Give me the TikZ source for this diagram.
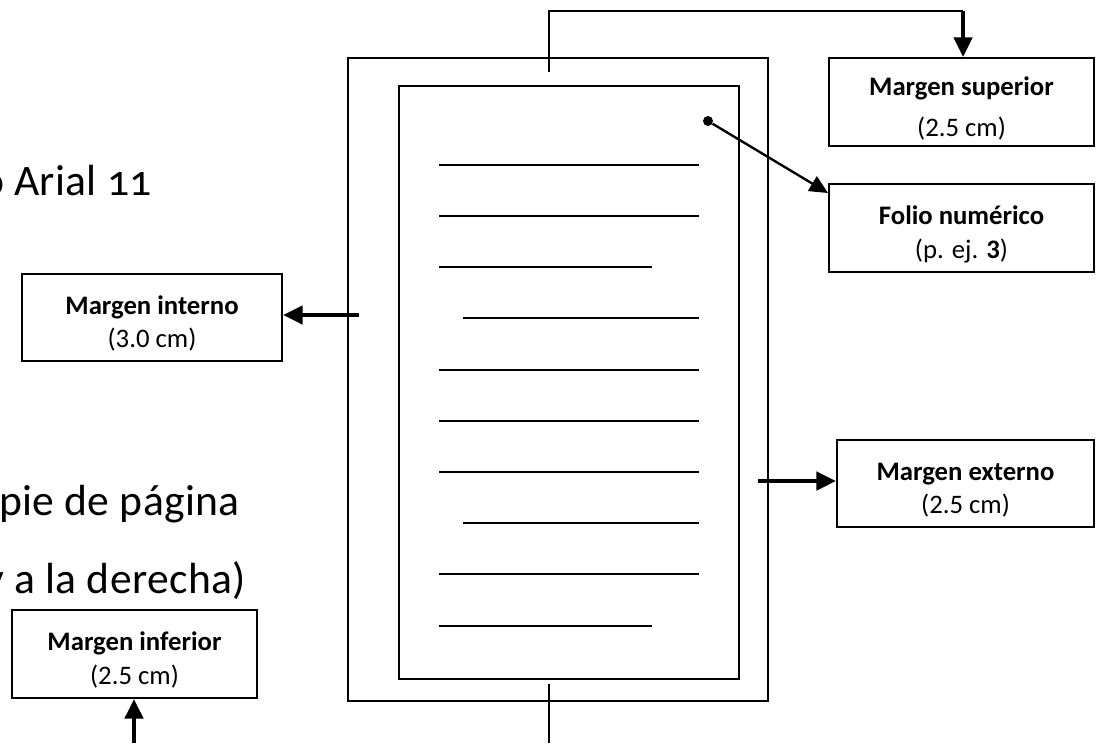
\documentclass[tikz,border=0pt]{standalone}
\usepackage{fontspec}
\setmainfont{Carlito}
\newfontfamily\grande[Numbers=OldStyle, LetterSpace=0.8]{Carlito}
\usetikzlibrary{arrows.meta}
\tikzset{
	marco/.style={draw, line width=1.4pt, inner sep=0pt, align=center, font=\fontsize{19pt}{24pt}\selectfont},
	flecha/.style={line width=2.8pt, -{Triangle[length=14pt,width=13pt]}},
	renglon/.style={line width=1.1pt},
	nota/.style={inner sep=0pt, font=\grande\fontsize{31pt}{34pt}\selectfont}
}

\begin{document}
\begin{tikzpicture}[x=0.025cm, y=-0.025cm]
			%%%%% START %%%%%
			\useasboundingbox (0,0) rectangle (1096,743);
			
			% pagina
			\draw[line width=1.4pt] (348,58) rectangle (768,701);
			\draw[line width=1.4pt] (399,86) rectangle (739,679);
			
			\foreach \y/\a/\b in {165/439/699, 216/439/699, 267/439/652, 318/463/699, 370/439/699,
				421/439/699, 472/439/699, 523/463/699, 574/439/699, 626/439/652}
			\draw[renglon] (\a,\y) -- (\b,\y);
			
			% textos cortados
			\node[nota, anchor=base east] (arial) at (152,195) {o Arial 11};
			\node[nota, anchor=base east] (pie) at (240,515) {pie de página};
			\node[nota, anchor=base east] (derecha) at (246,593) {y a la derecha)};
			
			% cajas
			\node[marco, minimum width=6.625cm, minimum height=2.2cm] (superior) at (961.5,102) {\rule{0pt}{22pt}\textbf{Margen superior}\\[5pt](2.5 cm)};
			\node[marco, minimum width=6.625cm, minimum height=2.2cm] (folio) at (961.5,228) {\rule{0pt}{22pt}\textbf{Folio numérico}\\(p. ej. \textbf{3})};
			\node[marco, minimum width=6.5cm, minimum height=2.175cm] (interno) at (152,317.5) {\rule{0pt}{22pt}\textbf{Margen interno}\\(3.0 cm)};
			\node[marco, minimum width=6.425cm, minimum height=2.175cm] (externo) at (965.5,483.5) {\rule{0pt}{22pt}\textbf{Margen externo}\\(2.5 cm)};
			\node[marco, minimum width=6.125cm, minimum height=2.2cm] (inferior) at (134.5,654) {\rule{0pt}{22pt}\textbf{Margen inferior}\\(2.5 cm)};
			
			% puntos de partida
			\node[circle, fill, inner sep=0pt, minimum size=0.25cm] (punto) at (708,121) {};
			\coordinate (fn) at (828,193);
			\coordinate (ts) at (549,72);
			\coordinate (tc) at (963,11);
			\coordinate (ai) at (359,315);
			\coordinate (ae) at (758,481);
			\coordinate (ab) at (134,743);
			\coordinate (bs) at (549,684);
			\coordinate (bb) at (549,743);
			
			% conectores
			\draw[line width=1.4pt] (ts) |- (tc);
			\draw[flecha] (tc) -- (tc |- superior.north);
			\draw[line width=1.7pt, -{Triangle[length=13pt,width=12pt]}] (punto) -- (fn);
			\draw[flecha] (ai) -- (ai -| interno.east);
			\draw[flecha] (ae) -- (ae -| externo.west);
			\draw[flecha] (ab) -- (ab |- inferior.south);
			\draw[line width=1.4pt] (bs) -- (bb);
			
			%%%%% END %%%%%
\end{tikzpicture}
\end{document}
